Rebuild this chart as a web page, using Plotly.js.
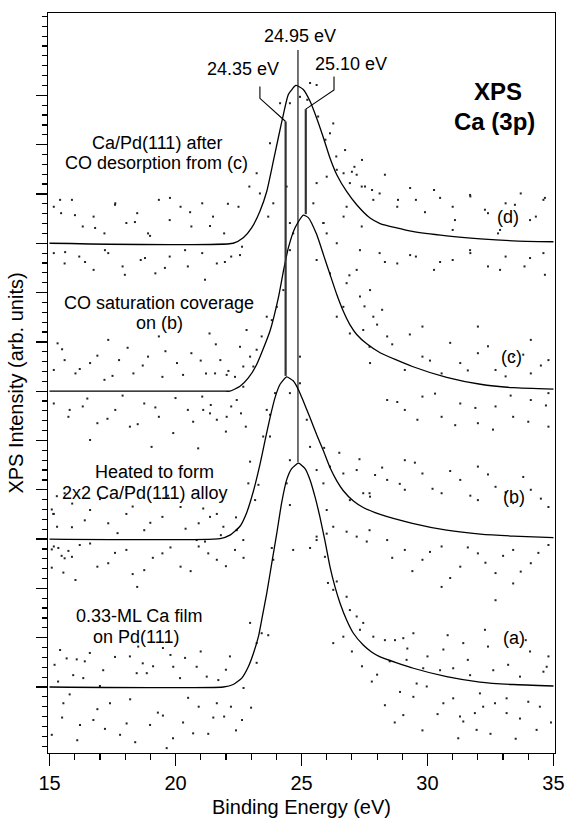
<!DOCTYPE html>
<html>
<head>
<meta charset="utf-8">
<script src="https://cdn.plot.ly/plotly-3.0.1.min.js"></script>
<style>
  html, body { margin: 0; padding: 0; background: #fff; }
  #chart { width: 569px; height: 821px; }
</style>
</head>
<body>
<div id="chart"></div>
<script>
// ---- Data (binding energy in eV, intensity in arb. units) ----
const spectrumNames = ["(a)", "(b)", "(c)", "(d)"];
const stackOffsets = [0, 3, 6, 9];

const fitA_x = [15, 21.9, 22.29, 22.63, 22.89, 23.09, 23.29, 23.42, 23.62, 23.82, 24.02, 24.21, 24.41, 24.61, 24.88, 25.14, 25.34, 25.54, 25.73, 25.93, 26.13, 26.33, 26.53, 26.79, 27.06, 27.45, 27.78, 28.12, 29.44, 30.76, 32.08, 33.4, 35];
const fitA_y = [0, 0, 0.05, 0.18, 0.41, 0.68, 1.02, 1.36, 1.90, 2.51, 3.12, 3.73, 4.20, 4.43, 4.54, 4.43, 4.20, 3.85, 3.45, 2.97, 2.44, 2.03, 1.70, 1.36, 1.09, 0.85, 0.71, 0.61, 0.38, 0.21, 0.10, 0.05, 0.02];

const fitB_x = [15, 21.77, 22.16, 22.56, 22.82, 23.09, 23.35, 23.55, 23.75, 23.95, 24.15, 24.41, 24.67, 24.87, 25.07, 25.34, 25.60, 25.87, 26.13, 26.40, 26.66, 27.06, 27.45, 28.12, 29.4, 30.76, 32.1, 33.4, 35];
const fitB_y = [0, 0.01, 0.08, 0.26, 0.53, 0.97, 1.51, 1.99, 2.46, 2.87, 3.14, 3.29, 3.21, 3.04, 2.80, 2.46, 2.12, 1.79, 1.45, 1.18, 0.98, 0.77, 0.64, 0.50, 0.32, 0.18, 0.10, 0.06, 0.03];

const fitC_x = [15, 21.90, 22.16, 22.56, 22.89, 23.22, 23.75, 24.08, 24.28, 24.48, 24.74, 25.07, 25.27, 25.60, 25.87, 26.13, 26.40, 26.66, 26.92, 27.19, 27.59, 28.12, 29.4, 30.76, 32.1, 33.4, 35];
const fitC_y = [0, 0, 0.0, 0.10, 0.27, 0.54, 1.22, 1.89, 2.43, 2.91, 3.31, 3.57, 3.52, 3.18, 2.77, 2.37, 1.96, 1.62, 1.35, 1.15, 0.96, 0.78, 0.50, 0.28, 0.14, 0.07, 0.04];

const fitD_x = [15, 22.29, 22.69, 23.02, 23.35, 23.62, 23.88, 24.08, 24.28, 24.48, 24.78, 25.07, 25.34, 25.60, 25.87, 26.13, 26.40, 26.79, 27.19, 27.72, 28.12, 29.4, 30.76, 32.1, 33.4, 35];
const fitD_y = [0, 0, 0.11, 0.31, 0.65, 1.05, 1.66, 2.14, 2.61, 3.02, 3.20, 3.12, 2.88, 2.54, 2.14, 1.73, 1.39, 1.05, 0.78, 0.51, 0.40, 0.24, 0.15, 0.09, 0.05, 0.03];

// raw data points, [energy, stacked intensity]
const dotsA = [[15.09,-0.97],[15.55,-0.33],[16.21,-0.77],[16.74,-0.67],[17.4,-0.33],[17.8,-0.97],[18.06,-0.74],[18.99,-0.77],[19.65,-1.24],[19.9,-1.04],[20.7,-0.94],[15.42,0.75],[15.68,0.58],[16.08,0.56],[16.6,0.69],[17.13,0.34],[18.19,0.62],[18.52,0.82],[19.11,0.42],[19.5,0.79],[19.91,0.41],[20.38,0.59],[15.34,0.11],[15.94,0.24],[16.34,0.18],[17.0,0.02],[18.46,0.28],[18.86,0.28],[20.18,0.18],[20.84,0.41],[22.2,-0.4],[22.64,-0.67],[21.64,-0.33],[21.93,-0.6],[20.92,-0.4],[22.96,1.3],[23.22,0.89],[23.42,1.09],[23.68,1.05],[23.82,2.82],[23.88,2.58],[22.7,-0.02],[23.22,0.49],[21.24,0.21],[21.7,0.14],[22.16,0.62],[25.34,2.82],[25.6,3.05],[25.93,2.64],[26.05,2.11],[26.26,1.97],[26.4,2.14],[26.79,1.83],[26.92,1.56],[27.19,1.43],[27.45,1.3],[27.32,1.16],[27.85,1.02],[26.26,0.89],[26.66,1.02],[24.54,3.69],[24.67,2.78],[27.79,0.11],[28.31,0.95],[28.71,0.95],[29.04,0.99],[29.44,1.09],[30.63,0.76],[31.42,0.89],[32.28,1.16],[34.07,0.72],[34.73,0.41],[29.17,0.55],[29.83,0.38],[30.5,0.34],[31.02,0.38],[31.69,0.24],[32.61,0.34],[33.67,0.21],[34.6,0.31],[29.57,0.07],[29.97,0.01],[29.44,-0.2],[30.63,-0.33],[31.02,-0.23],[31.29,-0.6],[31.42,-0.7],[31.88,-0.53],[32.08,-0.13],[32.21,-0.4],[32.68,-0.33],[33.14,-0.23],[33.14,-0.53],[33.67,-0.64],[34.33,-0.87],[31.22,-1.04],[31.95,-0.87],[34.46,-0.4],[29.04,-0.57],[28.31,-0.37],[28.91,-0.1],
  [15.2,0.45],[15.8,-0.15],[16.4,0.52],[16.9,-0.45],[17.6,0.61],[18.2,-0.25],[18.7,0.48],[19.3,-0.52],[19.8,0.65],[20.5,-0.22],[21.0,0.72],[21.5,-0.62],[22.0,0.35],[15.5,-0.62],[16.1,-1.08],[17.2,-0.85],[18.4,-1.12],[19.5,-0.58],[20.3,-0.72],[21.3,-0.95],[22.4,-0.88],[23.0,-0.42],[28.5,0.52],[29.2,0.78],[30.0,0.62],[30.8,1.05],[31.6,0.55],[32.4,0.82],[33.2,0.45],[33.9,0.95],[34.8,0.62],[28.7,-0.72],[29.8,-0.88],[30.4,-0.55],[32.5,-0.95],[33.5,-1.05],[34.0,-0.3],[34.9,-0.72],[27.4,0.42],[27.0,0.72],[28.0,0.25]];

const dotsB = [[15.09,3.6],[15.15,3.51],[15.29,3.87],[15.09,2.79],[15.35,2.82],[15.48,2.66],[15.09,2.42],[15.55,2.32],[15.75,2.76],[23.16,3.79],[21.37,3.45],[21.9,3.25],[22.43,3.18],[22.69,2.98],[20.84,2.98],[21.17,2.95],[24.41,4.13],[22.89,4.13],[23.29,4.1],[25.6,4.4],[25.87,4.13],[26.13,4.47],[26.66,4.33],[26.92,3.79],[27.19,4.4],[27.45,3.93],[27.72,3.86],[27.92,4.3],[26.0,3.59],[26.26,3.25],[26.79,3.15],[27.19,3.05],[27.59,2.95],[25.6,2.98],[26.0,3.11],[27.7,3.93],[28.4,4.2],[29.1,4.0],[29.8,4.33],[30.56,3.93],[31.3,4.2],[32.0,3.79],[32.7,4.06],[33.4,3.73],[34.1,4.0],[34.8,3.65],[29.1,4.6],[32.0,4.47],[27.7,3.18],[28.4,2.98],[29.1,2.78],[29.8,2.58],[30.56,2.85],[31.3,2.44],[32.0,2.71],[32.7,2.31],[33.4,2.78],[34.1,2.51],[34.8,2.88],[30.56,2.03],[33.4,2.1],[32.7,1.76],[15.17,2.85],[15.89,2.64],[16.61,2.91],[17.33,2.51],[18.05,2.78],[18.76,2.37],[19.48,2.71],[20.2,2.44],[20.92,2.85],[21.64,2.58],[22.36,2.78],[18.48,2.03],[16.03,2.17],[15.17,3.51],[15.89,3.24],[16.61,3.59],[17.33,3.32],[18.05,3.51],[18.76,3.18],[19.48,3.45],[20.2,3.65],[20.92,3.32],[21.64,3.51],[15.6,3.93],[18.05,4.0],[23.62,5.62],[23.48,5.08],[23.75,5.08],[23.75,5.52],[23.95,5.96],[24.54,5.96],[24.94,6.16],[25.21,5.42],[25.34,4.87],[24.54,4.6],[22.96,4.57],[20.9,4.84],
  [15.3,3.25],[15.9,3.72],[16.4,3.38],[17.0,3.81],[17.7,3.12],[18.3,3.66],[19.0,3.33],[19.7,3.88],[20.4,3.21],[21.1,3.62],[21.8,3.08],[22.4,3.44],[15.6,2.61],[16.2,2.88],[16.9,2.44],[17.6,2.72],[18.3,2.29],[19.1,2.62],[19.8,2.83],[20.6,2.35],[21.3,2.71],[22.0,2.45],[22.7,2.62],[28.2,4.45],[28.9,4.12],[29.5,4.55],[30.2,4.02],[30.9,4.38],[31.7,3.88],[32.4,4.31],[33.1,3.95],[33.8,4.26],[34.5,3.82],[28.6,2.62],[29.4,2.35],[30.1,2.74],[30.9,2.21],[31.6,2.83],[32.3,2.52],[33.0,2.66],[33.7,2.34],[34.4,2.72],[25.9,4.85],[26.5,4.75],[27.3,4.62]];

const dotsC = [[15.17,6.43],[15.6,6.63],[16.03,6.36],[16.61,6.57],[17.18,6.23],[17.76,6.63],[18.33,6.36],[18.91,6.7],[19.48,6.29],[20.06,6.57],[20.63,6.77],[21.21,6.36],[21.78,6.63],[22.36,6.29],[15.32,6.97],[17.33,7.04],[19.34,7.11],[21.35,7.17],[15.17,5.75],[15.75,5.48],[16.32,5.69],[16.9,5.35],[17.61,5.62],[18.19,5.28],[18.76,5.75],[19.34,5.48],[19.91,5.15],[20.49,5.62],[21.06,5.89],[21.64,5.42],[22.21,5.69],[22.79,5.28],[16.61,5.01],[19.05,4.87],[28.4,5.82],[29.1,5.62],[29.8,5.89],[30.56,5.48],[31.3,5.75],[32.0,5.35],[32.7,5.69],[33.4,5.48],[34.1,5.82],[34.8,5.28],[29.1,6.43],[29.8,6.7],[30.56,6.36],[31.3,6.57],[32.0,6.77],[32.7,6.43],[33.4,6.7],[34.1,6.36],[34.8,6.63],[27.7,6.9],[28.4,7.11],[29.8,7.31],[32.0,7.31],[34.1,7.04],[34.8,5.96],[25.47,9.81],[25.87,9.41],[26.0,9.2],[25.6,8.66],[26.4,9.0],[26.13,8.39],[26.79,8.19],[27.19,8.46],[27.32,7.92],[27.72,8.05],[27.85,7.51],[27.45,7.24],[26.92,7.17],[27.72,6.57],[26.4,7.51],[26.66,7.71],[24.54,8.86],[24.28,8.05],[24.02,7.71],[23.82,7.44],[23.62,7.51],[23.42,7.11],[23.22,6.84],[22.96,6.7],[22.69,6.5],[22.56,6.9],[22.82,7.24],[24.54,9.41],[24.67,9.2],[24.94,6.7],[21.57,6.36],[22.03,6.33],[22.69,6.09],[23.09,6.5],[21.1,5.62],[21.37,5.55],[22.03,5.48],[22.43,5.82],
  [15.5,6.85],[16.2,6.45],[16.9,6.72],[17.5,6.31],[18.1,6.88],[18.7,6.52],[19.6,6.81],[20.3,6.33],[21.0,6.62],[21.6,6.95],[22.1,6.41],[15.8,5.62],[16.5,5.85],[17.3,5.44],[17.9,5.91],[18.5,5.33],[19.2,5.67],[20.0,5.86],[20.7,5.38],[21.4,5.72],[22.0,5.18],[22.6,5.55],[28.0,7.35],[28.6,6.95],[29.3,7.15],[30.1,6.62],[30.9,6.98],[31.6,6.42],[32.4,6.91],[33.1,6.30],[33.8,6.74],[34.5,6.52],[28.8,5.78],[29.6,5.42],[30.3,5.95],[31.1,5.31],[31.9,5.66],[32.6,5.22],[33.3,5.91],[34.0,5.38],[34.7,5.71],[26.9,8.35],[27.5,7.72],[28.2,7.65]];

const dotsD = [[15.17,9.74],[15.46,9.61],[15.89,9.88],[16.32,9.34],[16.75,9.54],[17.18,9.2],[17.61,9.81],[18.05,9.41],[18.48,9.61],[18.91,9.2],[19.34,9.88],[19.77,9.47],[20.2,9.74],[20.63,9.34],[21.06,9.81],[21.49,9.54],[21.93,9.2],[22.5,9.74],[22.93,10.15],[23.22,10.42],[15.17,8.8],[15.6,8.59],[16.18,8.73],[16.75,8.46],[17.33,8.8],[17.9,8.53],[18.62,8.66],[19.2,8.39],[19.77,8.73],[20.49,8.53],[21.06,8.8],[21.64,8.59],[22.21,8.73],[22.64,8.93],[25.23,11.91],[25.66,11.57],[25.95,11.1],[26.38,10.76],[26.67,10.42],[27.1,10.55],[27.39,10.15],[28.1,10.01],[28.8,9.74],[29.54,9.88],[30.26,10.08],[31.0,9.74],[31.7,9.95],[32.4,9.61],[33.1,9.81],[33.7,10.01],[34.3,9.54],[34.6,9.88],[26.67,9.54],[27.39,9.34],[28.1,8.8],[28.8,8.59],[29.54,8.73],[30.26,8.46],[31.0,8.66],[31.7,8.8],[32.4,8.53],[33.1,8.73],[33.85,8.53],[34.6,8.8],[31.0,9.27],[32.8,9.2],[24.15,11.84],[24.54,11.84],[24.94,11.97],[25.34,12.25],[25.6,12.21],[24.41,10.15],[23.75,11.03],[23.35,10.01],[23.88,9.81],[23.68,9.54],[25.6,10.22],[26.0,10.35],[26.4,10.49],[26.92,10.22],[27.19,10.39],[27.52,10.15],[27.85,9.88],[26.79,9.74],[25.87,9.41],[26.26,11.43],[26.13,11.23],
  [15.42,9.88],[16.01,9.57],[16.81,9.31],[17.60,9.78],[18.39,9.43],[18.99,9.15],[19.78,9.92],[20.58,9.63],[21.37,9.35],[22.08,9.80],[15.62,8.82],[16.41,8.62],[17.20,8.86],[17.99,8.36],[18.79,8.70],[19.58,8.50],[20.38,8.86],[21.17,8.26],[21.96,8.62],[22.56,8.76],[26.73,10.89],[27.00,10.45],[27.40,10.69],[27.80,10.08],[28.31,10.39],[28.83,9.88],[29.31,10.12],[29.90,9.63],[30.50,9.92],[31.09,9.47],[31.69,9.98],[32.28,9.68],[32.88,9.27],[33.47,9.78],[34.07,9.47],[34.66,9.92],[29.31,8.76],[30.50,8.62],[31.69,8.86],[32.88,8.46],[34.07,8.70],[34.66,8.36],[27.32,8.86],[28.31,8.62]];

// peak-position marker lines [energy, stacked intensity]
const marker2495 = [[24.86, 12.92], [24.86, 4.56]];
const leader2435 = [[23.35, 12.18], [23.35, 11.94], [24.37, 11.47]];
const marker2435 = [[24.37, 11.47], [24.37, 6.31]];
const leader2510 = [[26.29, 12.38], [26.29, 12.11], [25.17, 11.72]];
const marker2510 = [[25.17, 11.72], [25.17, 9.59]];

const peakLabels = ["24.95 eV", "24.35 eV", "25.10 eV"];
const sampleLabels = [
  "Ca/Pd(111) after", "CO desorption from (c)",
  "CO saturation coverage", "on (b)",
  "Heated to form", "2x2 Ca/Pd(111) alloy",
  "0.33-ML Ca film", "on Pd(111)"
];
const xTickVals = [15, 20, 25, 30, 35];

// ---- Build traces ----
const FONT = "Liberation Sans, Arial, Helvetica, sans-serif";
const fits = [[fitA_x, fitA_y], [fitB_x, fitB_y], [fitC_x, fitC_y], [fitD_x, fitD_y]];
const dots = [dotsA, dotsB, dotsC, dotsD];
const traces = [];

dots.forEach((d, i) => {
  traces.push({
    type: "scatter", mode: "markers", name: spectrumNames[i] + " data",
    x: d.map(p => p[0]), y: d.map(p => p[1]),
    marker: { size: 2, color: "#222", symbol: "square", line: { width: 0 } },
    hoverinfo: "skip", showlegend: false
  });
});

fits.forEach((f, i) => {
  traces.push({
    type: "scatter", mode: "lines", name: spectrumNames[i] + " fit",
    x: f[0], y: f[1].map(v => v + stackOffsets[i]),
    line: { color: "#000", width: 1.3, shape: "spline", smoothing: 0.5 },
    showlegend: false
  });
});

function lineTrace(pts, w, c) {
  return {
    type: "scatter", mode: "lines",
    x: pts.map(p => p[0]), y: pts.map(p => p[1]),
    line: { color: c, width: w }, showlegend: false, hoverinfo: "skip"
  };
}
traces.push(lineTrace(marker2495, 1.1, "#000"));
traces.push(lineTrace(leader2435, 1.1, "#000"));
traces.push(lineTrace(marker2435, 2.2, "#333"));
traces.push(lineTrace(leader2510, 1.1, "#000"));
traces.push(lineTrace(marker2510, 2.2, "#333"));

// ---- Annotations ----
function ann(text, x, y, size, bold, yanchor) {
  return {
    text: bold ? "<b>" + text + "</b>" : text, x: x, y: y, xref: "x", yref: "y",
    showarrow: false, xanchor: "center", yanchor: yanchor || "middle",
    borderpad: 0,
    font: { family: FONT, size: size, color: "#000" }
  };
}
const annotations = [
  ann(peakLabels[0], 24.96, 13.20, 18),
  ann(peakLabels[1], 22.66, 12.54, 18),
  ann(peakLabels[2], 26.96, 12.64, 18),
  ann("XPS", 32.81, 11.78, 24, true, "bottom"),
  ann("Ca (3p)", 32.67, 11.76, 24, true, "top"),
  ann(sampleLabels[0], 19.27, 11.03, 18),
  ann(sampleLabels[1], 19.23, 10.63, 18),
  ann(sampleLabels[2], 19.35, 7.79, 18),
  ann(sampleLabels[3], 19.35, 7.38, 18),
  ann(sampleLabels[4], 19.15, 4.36, 18),
  ann(sampleLabels[5], 18.75, 3.94, 18),
  ann(sampleLabels[6], 18.55, 1.44, 18),
  ann(sampleLabels[7], 18.45, 1.01, 18),
  ann(spectrumNames[3], 33.19, 9.53, 18),
  ann(spectrumNames[2], 33.35, 6.69, 18),
  ann(spectrumNames[1], 33.42, 3.85, 18),
  ann(spectrumNames[0], 33.43, 0.99, 18)
];

const layout = {
  width: 569, height: 821,
  margin: { l: 48, r: 14, t: 13, b: 68, pad: 0 },
  paper_bgcolor: "#fff", plot_bgcolor: "#fff",
  font: { family: FONT, color: "#000" },
  showlegend: false,
  xaxis: {
    range: [14.94, 35.06], showgrid: false, zeroline: false,
    showline: true, linecolor: "#000", linewidth: 1.3, mirror: true,
    ticks: "outside", ticklen: 12, tickwidth: 1.3, tickcolor: "#000",
    tickmode: "array", tickvals: xTickVals, ticktext: xTickVals.map(String),
    tickfont: { family: FONT, size: 20, color: "#000" },
    minor: { tick0: 15, dtick: 1, ticks: "outside", ticklen: 6, tickwidth: 1.2, tickcolor: "#000", showgrid: false },
    title: { text: "Binding Energy (eV)", font: { family: FONT, size: 20, color: "#000" }, standoff: 6 }
  },
  yaxis: {
    range: [-1.339, 13.67], showgrid: false, zeroline: false,
    showline: true, linecolor: "#000", linewidth: 1.3, mirror: true,
    ticks: "outside", ticklen: 11, tickwidth: 1.3, tickcolor: "#000",
    tickmode: "array", tickvals: [0,1,2,3,4,5,6,7,8,9,10,11,12], showticklabels: false,
    minor: { tick0: 0, dtick: 0.2, ticks: "outside", ticklen: 5, tickwidth: 1.2, tickcolor: "#000", showgrid: false },
    title: { text: "XPS Intensity (arb. units)", font: { family: FONT, size: 20, color: "#000" }, standoff: 6 }
  },
  annotations: annotations
};

Plotly.newPlot("chart", traces, layout, { staticPlot: true, displayModeBar: false });
</script>
</body>
</html>
